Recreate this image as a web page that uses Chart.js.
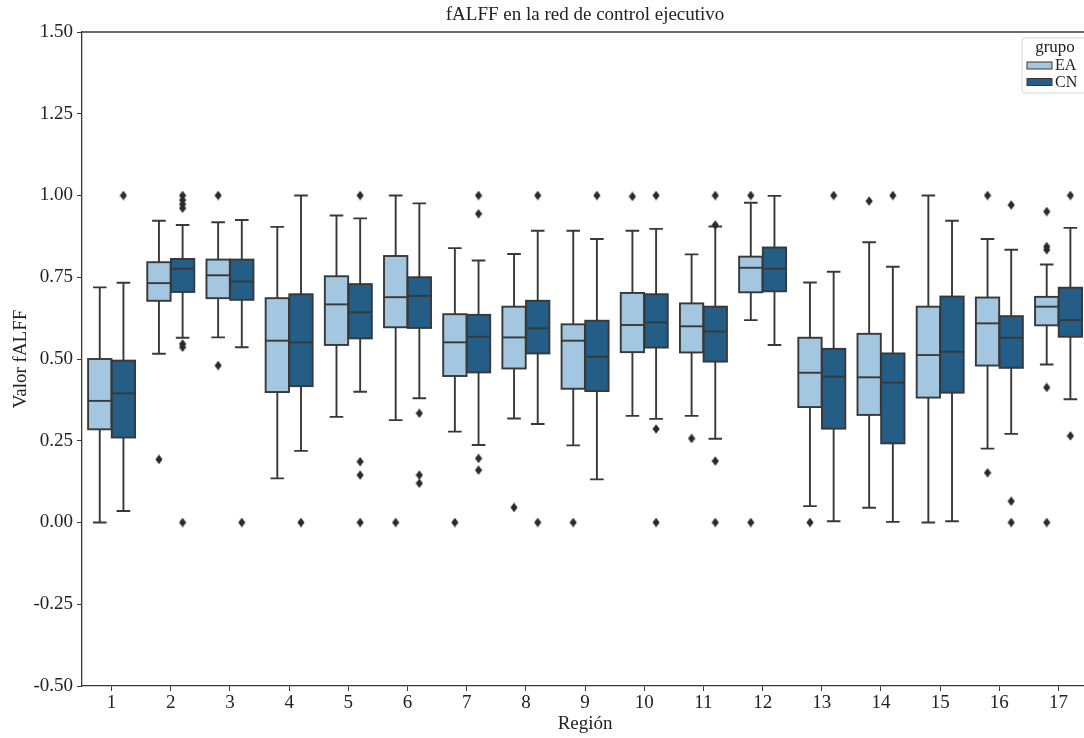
<!DOCTYPE html>
<html lang="es">
<head>
<meta charset="utf-8">
<title>fALFF en la red de control ejecutivo</title>
<script src="https://cdn.jsdelivr.net/npm/chart.js@4.4.1/dist/chart.umd.min.js"></script>
<style>
  html, body { margin: 0; padding: 0; background: #fff; overflow: hidden; }
  canvas { display: block; }
</style>
</head>
<body>
<canvas id="grafico" width="1084" height="738"></canvas>
<script>
// Regiones de la red de control ejecutivo
const regiones = [1, 2, 3, 4, 5, 6, 7, 8, 9, 10, 11, 12, 13, 14, 15, 16, 17]
const grupos = ['EA', 'CN']

// Grupo EA: bigotes, cuartiles y mediana
const minEA     = [0.000, 0.516, 0.566, 0.135, 0.323, 0.313, 0.278, 0.318, 0.236, 0.326, 0.326, 0.619, 0.050, 0.045, 0.000, 0.226, 0.483]
const q1EA      = [0.285, 0.678, 0.686, 0.399, 0.543, 0.597, 0.448, 0.471, 0.409, 0.521, 0.520, 0.704, 0.353, 0.329, 0.382, 0.480, 0.603]
const medianaEA = [0.372, 0.732, 0.756, 0.556, 0.667, 0.689, 0.551, 0.566, 0.556, 0.604, 0.600, 0.779, 0.458, 0.444, 0.512, 0.609, 0.660]
const q3EA      = [0.500, 0.796, 0.804, 0.686, 0.753, 0.815, 0.637, 0.660, 0.606, 0.702, 0.670, 0.813, 0.565, 0.577, 0.660, 0.688, 0.690]
const maxEA     = [0.719, 0.923, 0.918, 0.904, 0.939, 1.000, 0.839, 0.821, 0.892, 0.892, 0.820, 0.978, 0.734, 0.857, 1.000, 0.867, 0.789]
const atipicosEA = [
  [], [0.193], [1.0, 0.48], [], [], [0.0], [0.0], [0.046], [0.0],
  [0.997], [0.257], [1.0, 0.0], [0.0], [0.983], [], [1.0, 0.152],
  [0.951, 0.844, 0.834, 0.413, 0.0]
]

// Grupo CN
const minCN     = [0.035, 0.565, 0.536, 0.219, 0.400, 0.380, 0.237, 0.301, 0.132, 0.317, 0.256, 0.543, 0.004, 0.002, 0.004, 0.271, 0.377]
const q1CN      = [0.260, 0.705, 0.681, 0.417, 0.563, 0.595, 0.459, 0.517, 0.402, 0.535, 0.492, 0.707, 0.287, 0.242, 0.397, 0.473, 0.568]
const medianaCN = [0.395, 0.776, 0.737, 0.551, 0.643, 0.693, 0.568, 0.594, 0.507, 0.612, 0.584, 0.776, 0.446, 0.428, 0.522, 0.565, 0.619]
const q3CN      = [0.495, 0.806, 0.804, 0.698, 0.729, 0.750, 0.635, 0.678, 0.617, 0.698, 0.660, 0.841, 0.531, 0.517, 0.691, 0.631, 0.718]
const maxCN     = [0.733, 0.910, 0.925, 1.000, 0.930, 0.976, 0.801, 0.892, 0.867, 0.898, 0.905, 0.999, 0.767, 0.782, 0.923, 0.834, 0.901]
const atipicosCN = [
  [1.0], [1.0, 0.986, 0.973, 0.961, 0.546, 0.536, 0.0], [0.0], [0.0],
  [1.0, 0.186, 0.145, 0.0], [0.334, 0.145, 0.120], [1.0, 0.944, 0.196, 0.160],
  [1.0, 0.0], [1.0], [1.0, 0.286, 0.0], [1.0, 0.91, 0.188, 0.0], [], [1.0],
  [1.0], [], [0.971, 0.065, 0.0], [1.0, 0.265]
]

const ticksY = [-0.5, -0.25, 0, 0.25, 0.5, 0.75, 1.0, 1.25, 1.5]

// Estilo
const FUENTE = "'Liberation Serif', 'Times New Roman', serif"
const COLOR_LINEA = '#383838'
const COLOR_EA = '#a3c7e0'
const COLOR_CN = '#245d86'
const DESPLAZAMIENTO = 0.2   // cada caja ocupa 0.4 de la región
const MEDIO_ANCHO = 0.197
const MEDIO_TOPE = 0.115

const cajas = [
  { nombre: grupos[0], color: COLOR_EA, desp: -DESPLAZAMIENTO, min: minEA, q1: q1EA, med: medianaEA, q3: q3EA, max: maxEA },
  { nombre: grupos[1], color: COLOR_CN, desp: DESPLAZAMIENTO, min: minCN, q1: q1CN, med: medianaCN, q3: q3CN, max: maxCN }
]

// Rombo estrecho para los valores atípicos
const rombo = document.createElement('canvas')
rombo.width = 8
rombo.height = 10
const rctx = rombo.getContext('2d')
rctx.fillStyle = '#2b2b2b'
rctx.beginPath()
rctx.moveTo(4, 0.2)
rctx.lineTo(7.6, 5)
rctx.lineTo(4, 9.8)
rctx.lineTo(0.4, 5)
rctx.closePath()
rctx.fill()

const puntosAtipicos = (atipicos, desp) =>
  atipicos.flatMap((vals, i) => vals.map(v => ({ x: regiones[i] + desp, y: v })))

// Cajas, bigotes y medianas
const cajasPlugin = {
  id: 'cajas',
  beforeDatasetsDraw(chart) {
    const { ctx, scales: { x, y } } = chart
    ctx.save()
    ctx.strokeStyle = COLOR_LINEA
    ctx.lineWidth = 1.9
    cajas.forEach(g => {
      regiones.forEach((r, i) => {
        const cx = x.getPixelForValue(r + g.desp)
        const izq = x.getPixelForValue(r + g.desp - MEDIO_ANCHO)
        const der = x.getPixelForValue(r + g.desp + MEDIO_ANCHO)
        const tIzq = x.getPixelForValue(r + g.desp - MEDIO_TOPE)
        const tDer = x.getPixelForValue(r + g.desp + MEDIO_TOPE)
        const yMin = y.getPixelForValue(g.min[i])
        const yQ1 = y.getPixelForValue(g.q1[i])
        const yMed = y.getPixelForValue(g.med[i])
        const yQ3 = y.getPixelForValue(g.q3[i])
        const yMax = y.getPixelForValue(g.max[i])

        ctx.beginPath()
        ctx.moveTo(cx, yQ3); ctx.lineTo(cx, yMax)
        ctx.moveTo(tIzq, yMax); ctx.lineTo(tDer, yMax)
        ctx.moveTo(cx, yQ1); ctx.lineTo(cx, yMin)
        ctx.moveTo(tIzq, yMin); ctx.lineTo(tDer, yMin)
        ctx.stroke()

        ctx.fillStyle = g.color
        ctx.fillRect(izq, yQ3, der - izq, yQ1 - yQ3)
        ctx.strokeRect(izq, yQ3, der - izq, yQ1 - yQ3)

        ctx.beginPath()
        ctx.moveTo(izq, yMed); ctx.lineTo(der, yMed)
        ctx.stroke()
      })
    })
    ctx.restore()
  },
  afterDraw(chart) {
    const { ctx, chartArea: a, scales: { x } } = chart
    const centro = (x.getPixelForValue(0.5) + x.getPixelForValue(17.5)) / 2
    ctx.save()
    // marco superior
    ctx.strokeStyle = COLOR_LINEA
    ctx.lineWidth = 1.3
    ctx.beginPath()
    ctx.moveTo(a.left, a.top); ctx.lineTo(a.right, a.top)
    ctx.stroke()

    // título y etiqueta del eje x, centrados sobre el área de trazado completa
    ctx.fillStyle = '#222'
    ctx.font = '19px ' + FUENTE
    ctx.textAlign = 'center'
    ctx.textBaseline = 'middle'
    ctx.fillText('fALFF en la red de control ejecutivo', centro, 15)
    ctx.fillText('Región', centro, 724)

    // leyenda
    const lx = a.right - 62, ly = a.top + 6, lw = 70, lh = 55
    ctx.fillStyle = 'rgba(255,255,255,0.85)'
    ctx.strokeStyle = '#d6d6d6'
    ctx.lineWidth = 1
    ctx.beginPath()
    ctx.roundRect(lx, ly, lw, lh, 3)
    ctx.fill()
    ctx.stroke()
    ctx.fillStyle = '#222'
    ctx.font = '17px ' + FUENTE
    ctx.fillText('grupo', lx + 33, ly + 10)
    ctx.textAlign = 'left'
    ctx.font = '16px ' + FUENTE
    cajas.forEach((g, k) => {
      const fy = ly + 27.5 + k * 16.5
      ctx.fillStyle = g.color
      ctx.fillRect(lx + 5, fy - 3.5, 25, 7)
      ctx.strokeStyle = COLOR_LINEA
      ctx.strokeRect(lx + 5, fy - 3.5, 25, 7)
      ctx.fillStyle = '#222'
      ctx.fillText(g.nombre, lx + 33, fy + 0.5)
    })
    ctx.restore()
  }
}

Chart.defaults.font.family = FUENTE
Chart.defaults.font.size = 19
Chart.defaults.color = '#222'

const ctx = document.getElementById('grafico').getContext('2d')
const chart = new Chart(ctx, {
  type: 'scatter',
  data: {
    datasets: [
      { label: 'EA', data: puntosAtipicos(atipicosEA, -DESPLAZAMIENTO), pointStyle: rombo },
      { label: 'CN', data: puntosAtipicos(atipicosCN, DESPLAZAMIENTO), pointStyle: rombo }
    ]
  },
  options: {
    responsive: false,
    animation: false,
    devicePixelRatio: 1,
    layout: { autoPadding: false, padding: { top: 32, right: 0, left: 0, bottom: 0 } },
    plugins: {
      legend: { display: false },
      tooltip: { enabled: false }
    },
    scales: {
      x: {
        type: 'linear',
        min: 0.5,
        max: 17.43,   // el borde derecho del eje queda recortado
        afterBuildTicks: s => { s.ticks = regiones.map(v => ({ value: v })) },
        afterFit: s => { s.height = 52; s.paddingLeft = 0; s.paddingRight = 0 },
        grid: { drawOnChartArea: false, drawTicks: true, tickLength: 5, color: COLOR_LINEA },
        border: { color: COLOR_LINEA, width: 1.3 },
        ticks: { padding: 1, maxRotation: 0, autoSkip: false }
      },
      y: {
        min: -0.5,
        max: 1.5,
        afterBuildTicks: s => { s.ticks = ticksY.map(v => ({ value: v })) },
        afterFit: s => { s.width = 82 },
        grid: { drawOnChartArea: false, drawTicks: true, tickLength: 5, color: COLOR_LINEA },
        border: { color: COLOR_LINEA, width: 1.3 },
        ticks: { padding: 4, callback: v => v.toFixed(2) },
        title: { display: true, text: 'Valor fALFF', padding: { top: 10, bottom: 0 } }
      }
    }
  },
  plugins: [cajasPlugin]
})
</script>
</body>
</html>
